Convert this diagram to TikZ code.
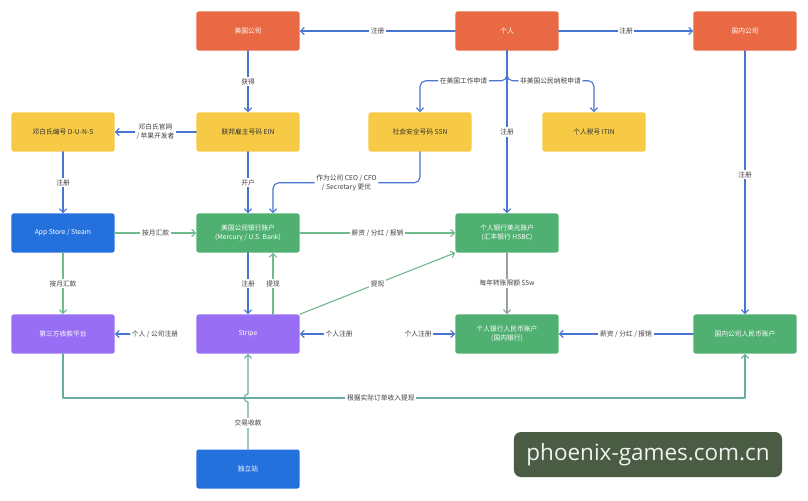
\documentclass[tikz,border=0pt]{standalone}
\usepackage{fontspec}
\newfontfamily\cjk{Noto Sans CJK SC}
\newfontfamily\wmfont{Open Sans}
\usetikzlibrary{calc,arrows.meta}
\definecolor{orangebox}{RGB}{233,105,68}
\definecolor{yellowbox}{RGB}{246,202,68}
\definecolor{bluebox}{RGB}{36,112,220}
\definecolor{greenbox}{RGB}{80,176,114}
\definecolor{purplebox}{RGB}{152,110,244}
\definecolor{lblue}{RGB}{72,116,210}
\definecolor{lgreen}{RGB}{112,186,142}
\definecolor{lteal}{RGB}{104,172,164}
\definecolor{lgray}{RGB}{150,162,160}
\definecolor{wmgreen}{RGB}{74,92,67}
\tikzset{flow/.style={
  x=0.025cm,y=-0.025cm,
  >={Straight Barb[length=2.6pt,width=5pt]},line join=round,line cap=round
},
box/.style={rounded corners=1.5pt,minimum width=2.575cm,minimum height=0.975cm,
  inner sep=1pt,align=center,text=white,font=\cjk\fontsize{4.8}{6.5}\selectfont},
lbl/.style={fill=white,inner sep=1.2pt,align=center,text=black!75,
  font=\cjk\fontsize{4.8}{6.5}\selectfont},
link/.style={line width=0.8pt,->}
}

\begin{document}
\begin{tikzpicture}[flow]
  \fill[white] (0,0) rectangle (808,500);
  \useasboundingbox (0,0) rectangle (808,500);

  \node[box,fill=orangebox] (usco) at (248,31) {美国公司};
  \node[box,fill=orangebox] (person) at (507,31) {个人};
  \node[box,fill=orangebox] (cnco) at (745,31) {国内公司};
  \node[box,fill=yellowbox,text=black!80] (duns) at (63,132) {邓白氏编号 D-U-N-S};
  \node[box,fill=yellowbox,text=black!80] (ein) at (248,132) {联邦雇主号码 EIN};
  \node[box,fill=yellowbox,text=black!80] (ssn) at (420,132) {社会安全号码 SSN};
  \node[box,fill=yellowbox,text=black!80] (itin) at (594,132) {个人税号 ITIN};
  \node[box,fill=bluebox] (appstore) at (63,233) {App Store / Steam};
  \node[box,fill=greenbox] (usbank) at (248,233) {美国公司银行账户\\(Mercury / U.S. Bank)};
  \node[box,fill=greenbox] (usd) at (507,233) {个人银行美元账户\\(汇丰银行 HSBC)};
  \node[box,fill=purplebox] (thirdpay) at (63,334) {第三方收款平台};
  \node[box,fill=purplebox] (stripe) at (248,334) {Stripe};
  \node[box,fill=greenbox] (cny) at (507,334) {个人银行人民币账户\\(国内银行)};
  \node[box,fill=greenbox] (cnbank) at (745,334) {国内公司人民币账户};
  \node[box,fill=bluebox] (indie) at (248,469) {独立站};

  \node[lbl] (regthird) at (155,334) {个人 / 公司注册};
  \node[lbl] (regstripe) at (339,334) {个人注册};
  \node[lbl] (regcny) at (418,334) {个人注册};
  \coordinate (hop) at (248,398);

  \draw[link,lblue] (person.west) -- node[lbl]{注册} (usco.east);
  \draw[link,lblue] (person.east) -- node[lbl]{注册} (cnco.west);
  \draw[link,lblue] (usco.south) -- node[lbl]{获得} (ein.north);
  \draw[link,lblue] (ein.west) -- node[lbl]{邓白氏官网\\/ 苹果开发者} (duns.east);
  \draw[link,lblue] (duns.south) -- node[lbl]{注册} (appstore.north);
  \draw[link,lblue] (ein.south) -- node[lbl]{开户} (usbank.north);
  \draw[link,lblue] (person.south) -- node[lbl]{注册} (usd.north);
  \draw[link,lblue,rounded corners=4pt] (person.south) -- ++(0,30)
    -| node[lbl,pos=0.25]{在美国工作申请} (ssn.north);
  \draw[link,lblue,rounded corners=4pt] (person.south) -- ++(0,30)
    -| node[lbl,pos=0.25]{非美国公民纳税申请} (itin.north);
  \draw[link,lblue,rounded corners=4pt] (ssn.south) -- ++(0,31)
    -| node[lbl,pos=0.25]{作为公司 CEO / CFO\\/ Secretary 更优} ($(usbank.north)+(25,0)$);
  \draw[link,lblue] (cnco.south) -- node[lbl,pos=0.47]{注册} (cnbank.north);

  \draw[link,lgreen] (appstore.east) -- node[lbl]{按月汇款} (usbank.west);
  \draw[link,lgreen] (appstore.south) -- node[lbl]{按月汇款} (thirdpay.north);
  \draw[link,lgreen] (usbank.east) -- node[lbl]{薪资 / 分红 / 报销} (usd.west);
  \draw[link,lblue] (usbank.south) -- node[lbl]{注册} (stripe.north);
  \draw[link,lgreen] ($(stripe.north)+(25,0)$) -- node[lbl]{提现} ($(usbank.south)+(25,0)$);
  \draw[link,lgreen] (stripe.north east) -- node[lbl]{提现} (usd.south west);
  \draw[link,lgray] (usd.south) -- node[lbl]{每年转账限额 \$5w} (cny.north);
  \draw[link,lblue] (cnbank.west) -- node[lbl]{薪资 / 分红 / 报销} (cny.east);

  \draw[link,lblue] (regthird) -- (thirdpay.east);
  \draw[link,lblue] (regstripe) -- (stripe.east);
  \draw[link,lblue] (regcny) -- (cny.west);

  \draw[link,lteal] (thirdpay.south) -- (thirdpay.south |- hop)
    -| node[lbl,pos=0.233]{根据实际订单收入提现} (cnbank.south);
  \draw[link,lteal] (indie.north) -- node[lbl,pos=0.55]{交易收款} ($(hop)+(0,4)$)
    .. controls ($(hop)+(-5,4)$) and ($(hop)+(-5,-4)$) .. ($(hop)+(0,-4)$) -- (stripe.south);

  \node[fill=wmgreen,rounded corners=5pt,minimum width=6.7cm,minimum height=1.125cm,
    text=white!92!wmgreen,font=\wmfont\fontsize{16}{18}\selectfont] (wm) at (648,454.5) {phoenix-games.com.cn};
\end{tikzpicture}
\end{document}
